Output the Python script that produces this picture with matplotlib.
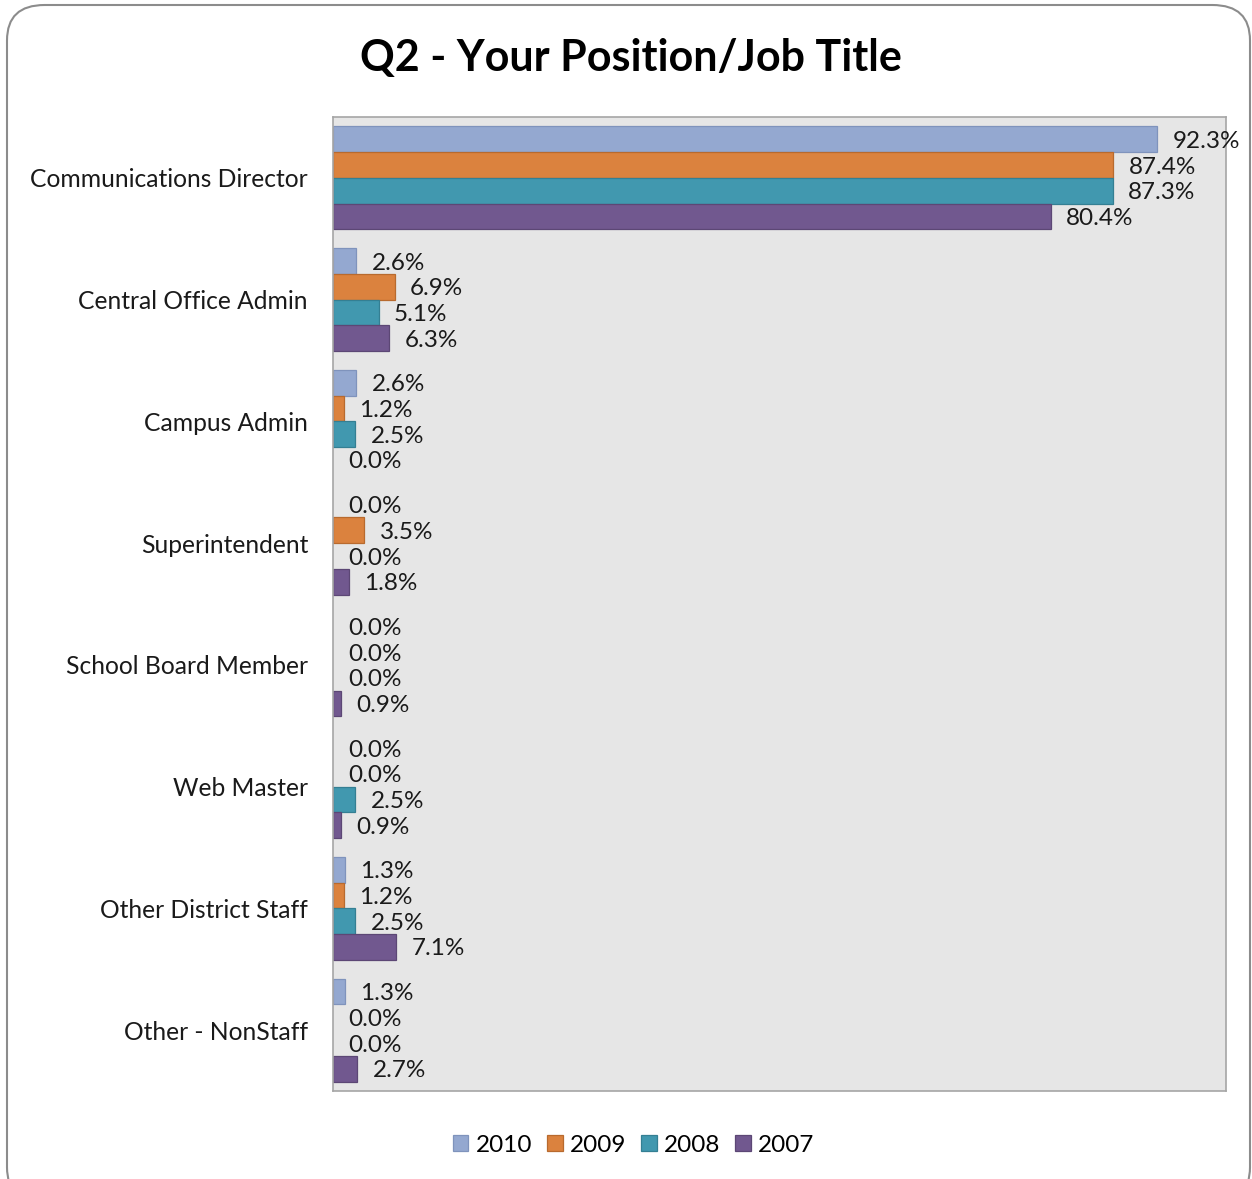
import numpy as np
import matplotlib
matplotlib.use('Agg')
from matplotlib import pyplot as plt
from matplotlib.patches import FancyBboxPatch

plt.rcParams['font.family'] = ['Lato', 'DejaVu Sans']

categories = ['Communications Director', 'Central Office Admin', 'Campus Admin',
              'Superintendent', 'School Board Member', 'Web Master',
              'Other District Staff', 'Other - NonStaff']
years = ['2010', '2009', '2008', '2007']
pct_2010 = [92.3, 2.6, 2.6, 0.0, 0.0, 0.0, 1.3, 1.3]
pct_2009 = [87.4, 6.9, 1.2, 3.5, 0.0, 0.0, 1.2, 0.0]
pct_2008 = [87.3, 5.1, 2.5, 0.0, 0.0, 2.5, 2.5, 0.0]
pct_2007 = [80.4, 6.3, 0.0, 1.8, 0.9, 0.9, 7.1, 2.7]

series = [pct_2010, pct_2009, pct_2008, pct_2007]
colors = ['#94A8D0', '#DB823E', '#4198AF', '#71588F']
edges = ['#7F93BC', '#B86A2E', '#347F93', '#5C4775']

fig = plt.figure(figsize=(12.52, 11.79), dpi=100)

# rounded frame around the whole chart
frame = FancyBboxPatch((7 / 1252, -0.02), 1243 / 1252, 1.0 - 5 / 1179 + 0.02,
                       boxstyle='round,pad=0,rounding_size=0.03',
                       transform=fig.transFigure, facecolor='none',
                       edgecolor='#8C8C8C', linewidth=1.5, clip_on=False)
fig.patches.append(frame)

ax = fig.add_axes([333 / 1252, 1 - 1091 / 1179, 893 / 1252, 974 / 1179])
ax.set_facecolor('#E6E6E6')

y = np.arange(len(categories))
h = 0.211
for i, (vals, yr) in enumerate(zip(series, years)):
    pos = y + (i - 1.5) * h
    lw = [0.9 if v > 0 else 0 for v in vals]
    ax.barh(pos, vals, height=h, color=colors[i], edgecolor=edges[i],
            linewidth=lw, label=yr)
    for p, v in zip(pos, vals):
        ax.annotate(f'{v:.1f}%', (v, p), xytext=(11, -1.5), textcoords='offset points',
                    ha='left', va='center', fontsize=17.5, color='#1A1A1A')

ax.set_xlim(0, 100)
ax.set_ylim(len(categories) - 0.5, -0.5)
ax.set_xticks([])
ax.set_yticks(y)
ax.set_yticklabels(categories, fontsize=17.7, color='#1A1A1A')
ax.tick_params(axis='y', length=0, pad=18)
for s in ax.spines.values():
    s.set_color('#A6A6A6')
    s.set_linewidth(1.2)

fig.text(0.504, 1 - 58 / 1179, 'Q2 - Your Position/Job Title', ha='center',
         va='center', fontsize=31, fontweight='bold')

fig.legend(loc='center', bbox_to_anchor=(0.506, 1 - 1145 / 1179), ncol=4,
           frameon=False, fontsize=17.5, handlelength=0.65, handleheight=0.65,
           handletextpad=0.3, columnspacing=0.6)

fig.savefig('out.png', dpi=100)
